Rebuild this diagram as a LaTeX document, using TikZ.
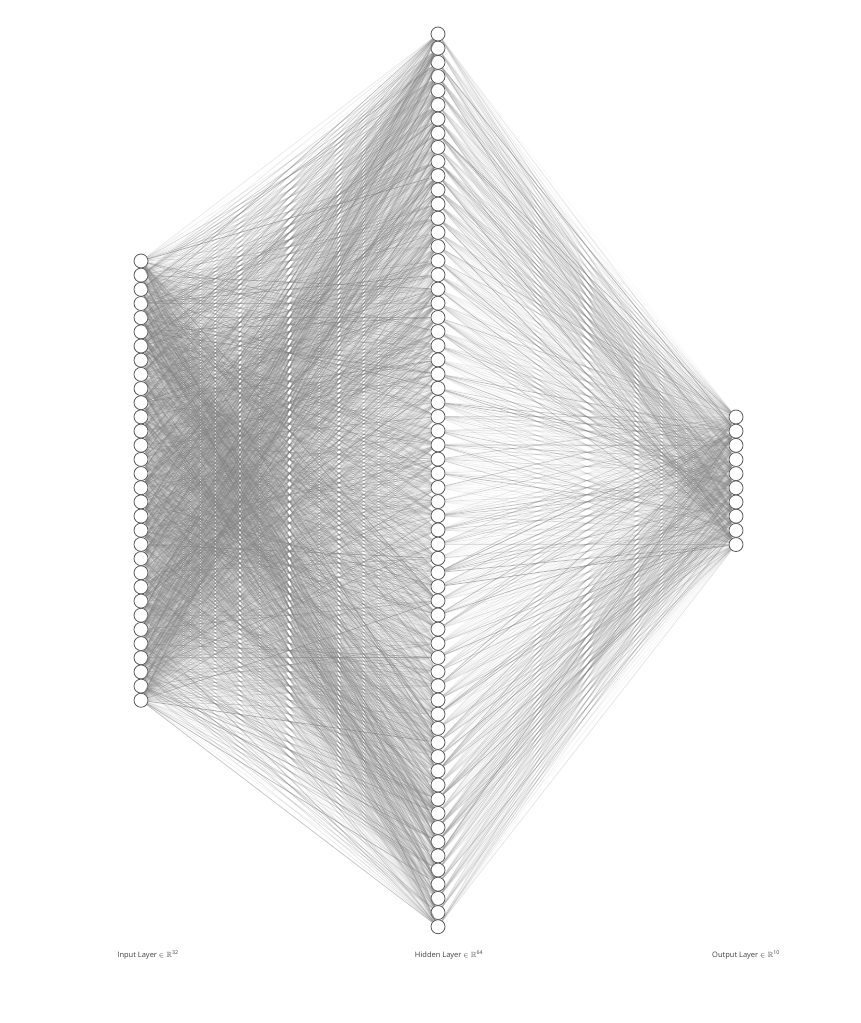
\documentclass[tikz,border=0pt]{standalone}
\usepackage{amsfonts,amssymb}
\usepackage{fontspec}
\setmainfont{Open Sans}
\usepackage{tikz}

\begin{document}
\begin{tikzpicture}[x=1pt, y=-1pt,
    neuron/.style={circle, draw=black!65, fill=white, line width=0.8pt, minimum size=14pt, inner sep=0pt},
    synapse/.style={draw=black!50, line width=0.75pt},
    layerlabel/.style={font=\fontsize{7.5}{9}\selectfont, text=black!75, inner sep=0pt}]
    \useasboundingbox (0,0) rectangle (861,1023);
    \pgfmathsetseed{4321}

    % Nodes {in1..in32, hid1..hid64, out1..out10}
    \foreach \i in {1,...,32}
        \node [neuron] (in\i)  at (141, {261+(\i-1)*14.17}) {};
    \foreach \j in {1,...,64}
        \node [neuron] (hid\j) at (438, {34+(\j-1)*14.17}) {};
    \foreach \k in {1,...,10}
        \node [neuron] (out\k) at (736, {417+(\k-1)*14.17}) {};

    % Paths
    \foreach \i in {1,...,32}
        \foreach \j in {1,...,64} {
            \pgfmathsetmacro\op{0.04+0.65*rnd*rnd}
            \path [synapse, draw opacity=\op] (in\i) -- (hid\j);
        }
    \foreach \j in {1,...,64}
        \foreach \k in {1,...,10} {
            \pgfmathsetmacro\op{0.04+0.6*rnd*rnd}
            \path [synapse, draw opacity=\op] (hid\j) -- (out\k);
        }

    % Labels
    \node [layerlabel] (inlabel)  at (148, 955) {Input Layer $\in \mathbb{R}$\textsuperscript{32}};
    \node [layerlabel] (hidlabel) at (449, 955) {Hidden Layer $\in \mathbb{R}$\textsuperscript{64}};
    \node [layerlabel] (outlabel) at (746, 955) {Output Layer $\in \mathbb{R}$\textsuperscript{10}};
\end{tikzpicture}
\end{document}
